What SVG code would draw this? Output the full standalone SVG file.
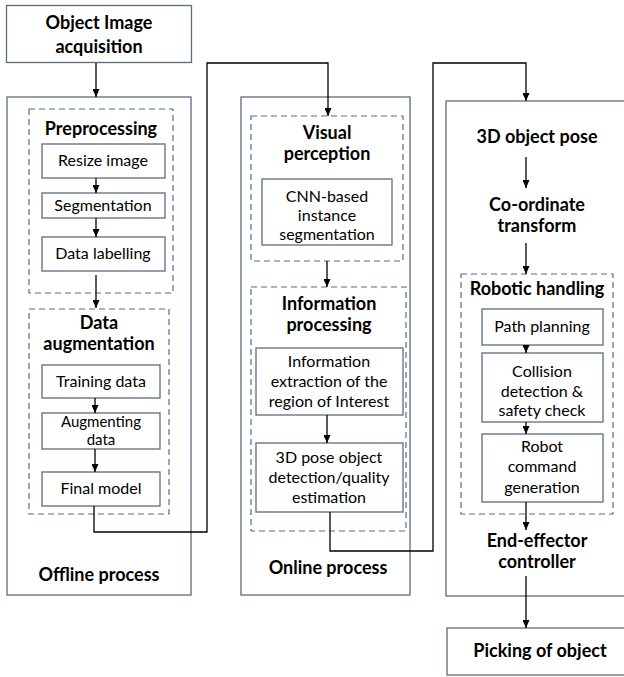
<svg xmlns="http://www.w3.org/2000/svg" width="624" height="677" viewBox="0 0 624 677">
  <defs>
    <marker id="arrow" markerWidth="8" markerHeight="7" refX="8" refY="3.5" orient="auto" markerUnits="userSpaceOnUse">
      <path d="M0,0 L8,3.5 L0,7 z" fill="#000"/>
    </marker>
    <style>
      .box { fill: #fff; stroke: #5b6b80; stroke-width: 1.3; }
      .group { fill: none; stroke: #5b6b80; stroke-width: 1.2; stroke-dasharray: 6 4; }
      .panel { fill: #fff; stroke: #5b6b80; stroke-width: 1.3; }
      .edge { fill: none; stroke: #000; stroke-width: 1.3; }
      .arr { marker-end: url(#arrow); }
      text { font-family: Lato, "Liberation Sans", sans-serif; fill: #000; text-anchor: middle; }
      .t { font-size: 16px; }
      .s { font-size: 15px; }
      .h { font-size: 18px; font-weight: 700; }
    </style>
  </defs>
  <rect width="624" height="677" fill="#fff"/>

  <!-- Panels -->
  <g id="offline-process">
    <rect class="panel" x="7" y="97" width="184" height="498"/>
    <text class="h" x="99" y="581">Offline process</text>
  </g>
  <g id="online-process">
    <rect class="panel" x="241" y="97" width="169" height="498"/>
    <text class="h" x="328" y="574">Online process</text>
  </g>
  <g id="robot-process">
    <rect class="panel" x="446" y="101" width="190" height="495"/>
  </g>

  <!-- Acquisition -->
  <g id="acquisition">
    <rect class="box" x="6.5" y="5.5" width="185" height="57"/>
    <text class="h" x="99" y="29">Object Image</text>
    <text class="h" x="99" y="53">acquisition</text>
  </g>

  <!-- Offline column -->
  <g id="preprocessing">
    <rect class="group" x="29" y="109" width="144" height="184"/>
    <text class="h" x="101" y="135">Preprocessing</text>
  </g>
  <g id="resize-image">
    <rect class="box" x="42" y="144" width="123" height="34"/>
    <text class="t" x="103" y="166">Resize image</text>
  </g>
  <g id="segmentation">
    <rect class="box" x="42" y="193" width="123" height="25"/>
    <text class="t" x="103" y="211">Segmentation</text>
  </g>
  <g id="data-labelling">
    <rect class="box" x="42" y="237" width="123" height="34"/>
    <text class="t" x="103" y="259">Data labelling</text>
  </g>
  <g id="data-augmentation">
    <rect class="group" x="29" y="309" width="140" height="205"/>
    <text class="h" x="99" y="329">Data</text>
    <text class="h" x="99" y="350">augmentation</text>
  </g>
  <g id="training-data">
    <rect class="box" x="42" y="365" width="118" height="33"/>
    <text class="t" x="101" y="387">Training data</text>
  </g>
  <g id="augmenting-data">
    <rect class="box" x="42" y="413" width="118" height="36"/>
    <text class="s" x="101" y="427">Augmenting</text>
    <text class="s" x="101" y="445">data</text>
  </g>
  <g id="final-model">
    <rect class="box" x="42" y="472" width="118" height="34"/>
    <text class="t" x="101" y="494">Final model</text>
  </g>

  <!-- Online column -->
  <g id="visual-perception">
    <rect class="group" x="251" y="116" width="152" height="145"/>
    <text class="h" x="327" y="139">Visual</text>
    <text class="h" x="327" y="160">perception</text>
  </g>
  <g id="cnn-segmentation">
    <rect class="box" x="262" y="179" width="130" height="66"/>
    <text class="t" x="327" y="202">CNN-based</text>
    <text class="t" x="327" y="221">instance</text>
    <text class="t" x="327" y="240">segmentation</text>
  </g>
  <g id="information-processing">
    <rect class="group" x="251" y="287" width="155" height="244"/>
    <text class="h" x="329" y="310">Information</text>
    <text class="h" x="329" y="331">processing</text>
  </g>
  <g id="roi-extraction">
    <rect class="box" x="256" y="348" width="147" height="67"/>
    <text class="t" x="329" y="367">Information</text>
    <text class="t" x="329" y="387">extraction of the</text>
    <text class="t" x="329" y="407">region of Interest</text>
  </g>
  <g id="pose-estimation">
    <rect class="box" x="256" y="443" width="147" height="69"/>
    <text class="t" x="329" y="463">3D pose object</text>
    <text class="t" x="329" y="483">detection/quality</text>
    <text class="t" x="329" y="503">estimation</text>
  </g>

  <!-- Robot column -->
  <g id="object-pose">
    <text class="h" x="537" y="143">3D object pose</text>
  </g>
  <g id="coordinate-transform">
    <text class="h" x="537" y="211">Co-ordinate</text>
    <text class="h" x="537" y="232">transform</text>
  </g>
  <g id="robotic-handling">
    <rect class="group" x="461" y="274" width="152" height="240"/>
    <text class="h" x="537" y="295">Robotic handling</text>
  </g>
  <g id="path-planning">
    <rect class="box" x="482" y="309" width="121" height="36"/>
    <text class="t" x="542" y="332">Path planning</text>
  </g>
  <g id="collision-check">
    <rect class="box" x="482" y="353" width="121" height="69"/>
    <text class="t" x="542" y="377">Collision</text>
    <text class="t" x="542" y="397">detection &amp;</text>
    <text class="t" x="542" y="416">safety check</text>
  </g>
  <g id="robot-command">
    <rect class="box" x="482" y="434" width="121" height="68"/>
    <text class="t" x="542" y="452">Robot</text>
    <text class="t" x="542" y="472">command</text>
    <text class="t" x="542" y="493">generation</text>
  </g>
  <g id="end-effector">
    <text class="h" x="537" y="547">End-effector</text>
    <text class="h" x="537" y="568">controller</text>
  </g>
  <g id="picking">
    <rect class="box" x="447" y="628" width="190" height="47"/>
    <text class="h" x="540" y="657">Picking of object</text>
  </g>

  <!-- Connectors -->
  <g id="connectors">
    <line class="edge arr" x1="96" y1="63" x2="96" y2="97"/>
    <line class="edge arr" x1="96" y1="178" x2="96" y2="193"/>
    <line class="edge arr" x1="96" y1="218" x2="96" y2="237"/>
    <line class="edge arr" x1="96" y1="275" x2="96" y2="308"/>
    <line class="edge arr" x1="95" y1="398" x2="95" y2="413"/>
    <line class="edge arr" x1="95" y1="449" x2="95" y2="472"/>
    <polyline class="edge arr" points="94,506 94,532 207,532 207,63 328,63 328,116"/>
    <line class="edge arr" x1="327" y1="261" x2="327" y2="287"/>
    <line class="edge arr" x1="327" y1="415" x2="327" y2="443"/>
    <polyline class="edge arr" points="330,512 330,551 433,551 433,63 526,63 526,101"/>
    <line class="edge arr" x1="526" y1="157" x2="526" y2="188"/>
    <line class="edge arr" x1="526" y1="243" x2="526" y2="274"/>
    <line class="edge arr" x1="526" y1="345" x2="526" y2="353"/>
    <line class="edge arr" x1="526" y1="422" x2="526" y2="434"/>
    <line class="edge arr" x1="526" y1="502" x2="526" y2="530"/>
    <line class="edge arr" x1="526" y1="576" x2="526" y2="628"/>
  </g>
</svg>
